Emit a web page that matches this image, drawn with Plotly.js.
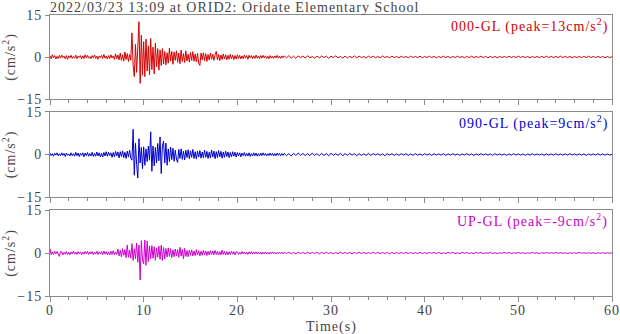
<!DOCTYPE html>
<html><head><meta charset="utf-8">
<script src="https://cdn.plot.ly/plotly-3.0.1.min.js"></script>
<style>html,body{margin:0;padding:0;background:#fff}#chart{width:620px;height:334px}svg text{letter-spacing:1px}</style>
</head><body><div id="chart"></div>
<script>
// Sampling: fine part every 0.125 s from 0 s, tail every 0.25 s after the fine part
const dtFine = 0.125;
const dtTail = 0.25;

// ---- 000-GL (cm/s^2) ----
const ns_fine = [
 .4,-.6,.8,-.3,.5,-.7,.2,-.5,.6,-.4, .7,-.2,.3,-.6,.5,-.8,.4,-.3,.6,-.5,
 .2,-.4,.7,-.6,.3,-.2,.5,-.7,.4,-.5, .8,-.3,.6,-.4,.2,-.6,.5,-.3,.7,-.5,
 .3,-.8,.4,-.2,.6,-.5,.9,-.4,.3,-.7, .5,-.6,.8,-.3,.4,-.9,1.1,-.6,.7,-1.0,
 1.4,-1.2,.8,-1.5,1.8,-.9,1.2,-1.6,.9,-1.1,
 8.6,-3.0,-7.0,4.5,-5.5,6.0,12.6,-9.4,7.8,-6.5,
 5.5,-7.0,6.4,-5.0,4.0,-6.4,6.6,-4.5,3.5,-6.0,
 5.0,-3.5,3.0,-4.7,2.5,-3.0,3.0,-2.5,2.0,-2.8,
 1.5,-2.2,3.2,-1.5,2.0,-2.6,1.8,-1.2,2.2,-1.9,
 1.4,-2.4,2.5,-1.6,1.2,-2.0,2.2,-1.4,1.0,-1.8,
 1.6,-1.2,1.9,-1.5,1.1,-1.7,1.3,-2.2,-3.0,1.4,
 -1.0,1.5,-1.3,1.2,-1.6,.9,-1.1,1.4,-.8,1.0,
 -1.2,.8,2.0,-1.0,.9,-1.3,.7,-.9,1.1,-.7,
 .8,-1.0,.6,-.8,1.0,-.6,.7,-.9,.5,-.7,
 .8,-.5,.6,-.7,.4,-.6,.7,-.4,.5,-.8, .6,-.3,.5,-.6,.4,-.5,.7,-.4,.3,-.6,
 .5,-.4,.6,-.3,.4,-.5,.3,-.6,.5,-.4, .3,-.5,.4,-.3,.6,-.4,.3,-.5,.4,-.3
];
const ns_tail = [
 .4,-.3,.5,-.4,.3,-.5,.4,-.2,.3,-.4, .5,-.3,.2,-.4,.3,-.3,.4,-.2,.3,-.5,
 .3,-.2,.4,-.3,.2,-.4,.3,-.3,.2,-.2, .4,-.3,.3,-.2,.2,-.4,.3,-.2,.3,-.3,
 .2,-.3,.4,-.2,.2,-.3,.3,-.2,.2,-.3, .3,-.2,.2,-.3,.3,-.2,.2,-.2,.3,-.3,
 .2,-.2,.3,-.2,.2,-.3,.2,-.2,.3,-.2, .2,-.3,.2,-.2,.3,-.2,.2,-.3,.2,-.2,
 .3,-.2,.2,-.2,.3,-.2,.2,-.3,.2,-.2, .2,-.3,.2,-.2,.2,-.2,.3,-.2,.2,-.2,
 .3,-.2,.2,-.2,.2,-.3,.2,-.2,.2,-.2, .2,-.2,.3,-.2,.2,-.2,.2,-.2,.3,-.2,
 .2,-.2,.2,-.3,.2,-.2,.2,-.2,.2,-.2, .3,-.2,.2,-.2,.2,-.2,.2,-.3,.2,-.2, .1
];

// ---- 090-GL ----
const ew_fine = [
 .5,-.4,.3,-.6,.4,-.2,.6,-.5,.3,-.4, .6,-.3,.4,-.7,.5,-.3,.2,-.5,.6,-.4,
 .3,-.6,.8,-.4,.5,-.7,.4,-.3,.6,-.8, .5,-.4,.7,-.6,.3,-.5,.8,-.7,.4,-.6,
 .9,-.5,.6,-.8,.4,-.9,.7,-.5,1.0,-.6, .8,-.4,.6,-1.0,.7,-.8,1.1,-.5,.9,-1.2,
 1.0,-.7,1.3,-1.1,.8,-1.4,1.2,-.9,1.5,-1.3,
 -2.0,8.9,-7.3,4.0,-3.5,-8.3,5.6,-3.0,2.5,-5.0,
 2.7,-3.8,2.0,-2.5,3.0,-2.0,8.0,-5.9,3.0,-4.0,
 2.5,-3.0,3.9,-2.2,6.2,-6.7,3.0,4.7,-3.0,4.0,
 -3.8,2.0,-2.5,2.6,-1.8,2.2,-2.4,1.5,-1.6,-2.8,
 1.8,-1.4,2.0,-1.7,1.2,-1.9,1.5,-1.1,1.7,-1.5,
 1.3,-1.0,1.8,-1.4,1.0,-1.6,1.2,-.9,1.4,-1.3,
 .9,-1.1,1.5,-1.0,1.1,-1.4,.8,-1.2,1.6,-.9,
 1.2,-1.5,1.0,-1.1,1.4,-.8,1.1,-1.3,.9,-1.0,
 1.2,-.7,.9,-1.1,.7,-.8,1.0,-.6,.8,-.9,
 .7,-.5,.6,-.8,.5,-.4,.7,-.6,.4,-.5, .6,-.7,.3,-.5,.6,-.4,.5,-.6,.3,-.5,
 .5,-.4,.6,-.3,.4,-.5,.3,-.4,.5,-.3, .4,-.5,.3,-.4,.5,-.3,.4,-.4,.3,-.3
];
const ew_tail = [
 .4,-.4,.3,-.5,.4,-.3,.5,-.3,.4,-.4, .3,-.4,.5,-.3,.3,-.4,.4,-.3,.3,-.4,
 .4,-.3,.3,-.3,.4,-.4,.3,-.3,.4,-.2, .3,-.4,.3,-.3,.2,-.3,.4,-.3,.3,-.2,
 .3,-.3,.2,-.4,.3,-.2,.3,-.3,.2,-.3, .3,-.2,.3,-.3,.2,-.3,.3,-.2,.2,-.3,
 .3,-.2,.2,-.3,.3,-.2,.2,-.2,.3,-.3, .2,-.2,.3,-.2,.2,-.3,.2,-.2,.3,-.2,
 .2,-.3,.2,-.2,.3,-.2,.2,-.2,.2,-.3, .3,-.2,.2,-.2,.2,-.3,.2,-.2,.3,-.2,
 .2,-.2,.2,-.3,.2,-.2,.3,-.2,.2,-.2, .2,-.3,.2,-.2,.2,-.2,.3,-.2,.2,-.2,
 .2,-.2,.3,-.2,.2,-.2,.2,-.2,.2,-.3, .2,-.2,.2,-.2,.3,-.2,.2,-.2,.2,-.2, .1
];

// ---- UP-GL ----
const ud_fine = [
 1.5,-.6,.4,-.5,.6,-.3,.5,-.4,-1.2,.5, .4,-.6,.3,-.4,.5,-.5,.3,-.6,.4,-.3,
 .6,-.4,.3,-.5,.5,-.3,.4,-.6,.3,-.4, .5,-.3,.6,-.5,.4,-.3,.5,-.6,.3,-.4,
 .6,-.5,.4,-.3,.5,-.6,.7,-.4,.5,-.6, .4,-.7,.6,-.5,.8,-.6,.4,-.5,1.4,-1.0,
 .9,-1.3,1.5,-.8,1.2,-1.6,2.8,-1.5,1.0,-1.8,
 3.3,-2.6,1.5,-2.0,3.5,-3.2,2.8,-9.4,4.3,-2.5,
 -3.8,4.5,-4.3,4.2,-3.0,2.5,-2.0,2.6,-1.8,2.2,
 -2.5,1.8,-1.5,2.4,-2.2,2.7,-2.6,1.9,-2.0,1.6,
 -1.4,1.8,-1.2,1.5,-1.6,1.1,-1.3,1.4,-1.0,1.2,
 -1.5,2.0,-1.1,1.3,-2.0,1.6,-1.2,.9,-1.3,1.0,
 -.8,1.1,-1.0,.7,-.9,1.2,-.7,.8,-1.0,.6,
 -.8,.9,-.6,.7,-.9,.6,-.7,.8,-.5,.7,
 -.6,.9,-.5,.6,-.7,.5,-.6,1.0,-.5,.6,
 -.7,.5,-.6,.4,-.5,.6,-.4,.5,-.6,.4,
 .4,-.5,.3,-.4,.5,-.3,.4,-.4,.3,-.5, .4,-.3,.5,-.4,.3,-.3,.4,-.3,.3,-.4,
 .3,-.4,.3,-.3,.4,-.3,.2,-.4,.3,-.3, .4,-.2,.3,-.3,.2,-.3,.3,-.2,.3,-.3
];
const ud_tail = [
 .3,-.2,.3,-.3,.2,-.3,.3,-.2,.2,-.3, .3,-.2,.2,-.2,.3,-.3,.2,-.2,.3,-.2,
 .2,-.3,.2,-.2,.3,-.2,.2,-.2,.2,-.3, .2,-.2,.3,-.2,.2,-.2,.2,-.2,.3,-.2,
 .2,-.2,.2,-.2,.2,-.3,.2,-.2,.2,-.2, .2,-.2,.2,-.2,.2,-.2,.2,-.2,.2,-.2,
 .2,-.2,.2,-.1,.2,-.2,.2,-.2,.1,-.2, .2,-.1,.2,-.2,.1,-.2,.2,-.1,.2,-.2,
 .1,-.2,.2,-.1,.2,-.2,.1,-.1,.2,-.2, .1,-.2,.1,-.1,.2,-.1,.2,-.2,.1,-.1,
 .2,-.1,.1,-.2,.1,-.1,.2,-.1,.1,-.2, .1,-.1,.2,-.1,.1,-.1,.2,-.1,.1,-.1,
 .1,-.2,.1,-.1,.1,-.1,.2,-.1,.1,-.1, .1,-.1,.1,-.2,.1,-.1,.1,-.1,.1,-.1, .1
];

const labels = ['000-GL (peak=13cm/s<sup>2</sup>)', '090-GL (peak=9cm/s<sup>2</sup>)', 'UP-GL (peak=-9cm/s<sup>2</sup>)'];
const colors = ['#d60000', '#0000cc', '#cc00cc'];
const yTicks = [-15, 0, 15];
const xTicks = [0, 10, 20, 30, 40, 50, 60];

function series(fine, tail) {
  const x = [], y = [];
  fine.forEach((v, i) => { x.push(i * dtFine); y.push(v); });
  const t0 = fine.length * dtFine;
  tail.forEach((v, i) => { x.push(t0 + i * dtTail); y.push(v); });
  return {x, y};
}
const S = [series(ns_fine, ns_tail), series(ew_fine, ew_tail), series(ud_fine, ud_tail)];

const font = {family: '"Liberation Serif", "Times New Roman", serif', size: 14, color: '#444'};
const frame = '#8a8a8a';
const domains = [[0.701, 1], [0.352, 0.655], [0, 0.306]];

const data = S.map((s, i) => ({
  x: s.x, y: s.y, type: 'scatter', mode: 'lines',
  line: {color: colors[i], width: 1},
  xaxis: 'x' + (i ? i + 1 : ''), yaxis: 'y' + (i ? i + 1 : ''),
  hoverinfo: 'skip'
}));

const layout = {
  width: 620, height: 334,
  margin: {l: 50, r: 8, t: 15, b: 38},
  paper_bgcolor: '#fff', plot_bgcolor: '#fff',
  showlegend: false, font: font,
  title: {text: '2022/03/23 13:09 at ORID2: Oridate Elementary School',
          x: 50/620, xanchor: 'left', xref: 'container', y: 1 - 7/334, yanchor: 'middle', yref: 'container',
          font: {family: font.family, size: 14, color: '#444'}},
  annotations: [{
    text: 'Time(s)', xref: 'paper', yref: 'paper', x: 0.5, y: 0, xanchor: 'center', yanchor: 'top',
    yshift: -21, showarrow: false, font: font
  }]
};
// x tick labels of the bottom panel, placed through the x3 axis scale
xTicks.forEach(v => layout.annotations.push({
  text: String(v), xref: 'x3', yref: 'paper', x: v, y: 0, xanchor: 'center', yanchor: 'top',
  yshift: -5, showarrow: false, font: font
}));
for (let i = 0; i < 3; i++) {
  const sx = i ? String(i + 1) : '';
  layout['xaxis' + sx] = {
    domain: [0, 1], anchor: 'y' + sx, range: [0, 60], tickvals: xTicks,
    showticklabels: false, ticks: 'outside', ticklen: 5, tickcolor: frame, tickwidth: 1,
    minor: {dtick: 2, ticks: 'outside', ticklen: 3, tickcolor: frame, showgrid: false},
    showgrid: false, zeroline: false, showline: true, mirror: true, linecolor: frame, linewidth: 1,
    tickfont: font
  };
  layout['yaxis' + sx] = {
    domain: domains[i], anchor: 'x' + sx, range: [-15, 15], tickvals: yTicks,
    ticks: 'outside', ticklen: 4, tickcolor: frame, showgrid: false, zeroline: false,
    showline: true, mirror: true, linecolor: frame, linewidth: 1, tickfont: font,
    title: {text: '(cm/s<sup>2</sup>)', font: font, standoff: 5}
  };
  layout.annotations.push({
    text: labels[i], xref: 'x' + sx, yref: 'y' + sx, x: 60, y: 15,
    xanchor: 'right', yanchor: 'top', xshift: -2, yshift: 1, showarrow: false,
    font: {family: font.family, size: 14, color: colors[i]}
  });
}
Plotly.newPlot('chart', data, layout, {staticPlot: true, displayModeBar: false});
</script>
</body></html>
